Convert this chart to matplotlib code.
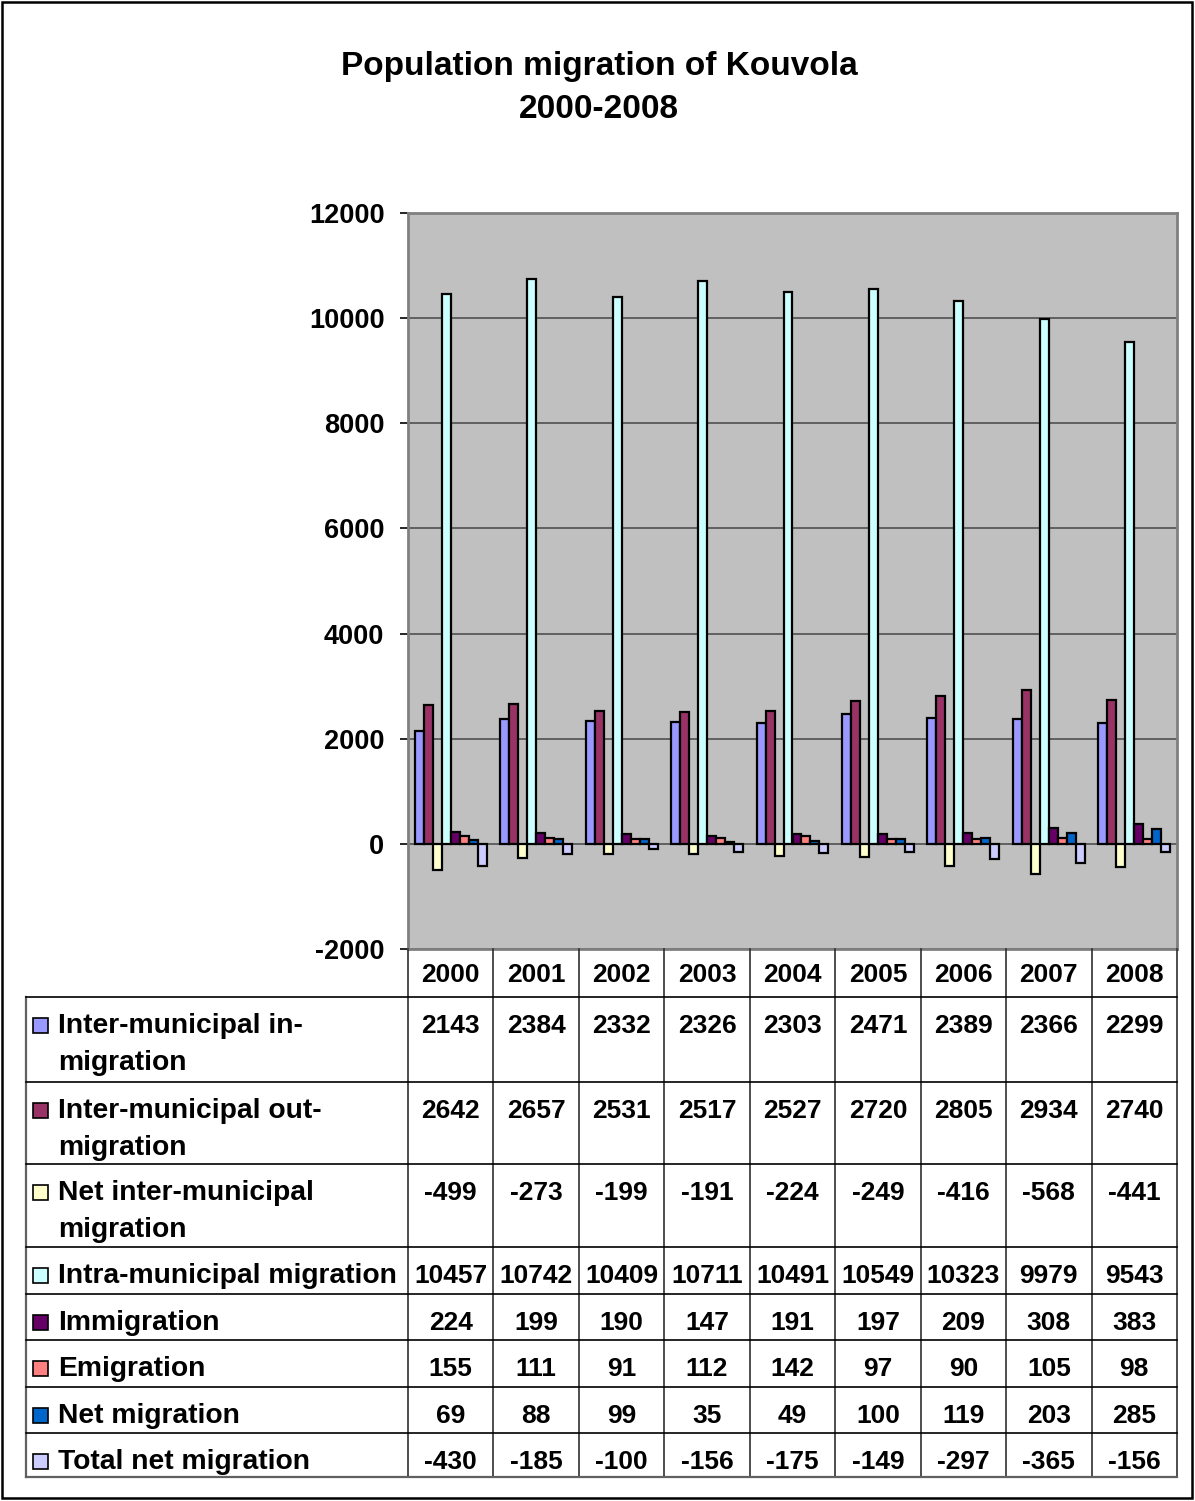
import numpy as np
import matplotlib.pyplot as plt
from matplotlib.patches import Rectangle

plt.rcParams['font.family'] = ['Liberation Sans', 'DejaVu Sans']
plt.rcParams['font.weight'] = 'bold'
plt.rcParams['axes.unicode_minus'] = False

years = ['2000', '2001', '2002', '2003', '2004', '2005', '2006', '2007', '2008']

series_labels = [
    'Inter-municipal in-\nmigration',
    'Inter-municipal out-\nmigration',
    'Net inter-municipal\nmigration',
    'Intra-municipal migration',
    'Immigration',
    'Emigration',
    'Net migration',
    'Total net migration',
]

inter_in = [2143, 2384, 2332, 2326, 2303, 2471, 2389, 2366, 2299]
inter_out = [2642, 2657, 2531, 2517, 2527, 2720, 2805, 2934, 2740]
net_inter = [-499, -273, -199, -191, -224, -249, -416, -568, -441]
intra = [10457, 10742, 10409, 10711, 10491, 10549, 10323, 9979, 9543]
immigration = [224, 199, 190, 147, 191, 197, 209, 308, 383]
emigration = [155, 111, 91, 112, 142, 97, 90, 105, 98]
net_migration = [69, 88, 99, 35, 49, 100, 119, 203, 285]
total_net = [-430, -185, -100, -156, -175, -149, -297, -365, -156]

series = [inter_in, inter_out, net_inter, intra,
          immigration, emigration, net_migration, total_net]
colors = ['#9999FF', '#993366', '#FFFFCC', '#CCFFFF',
          '#660066', '#FF8080', '#0066CC', '#CCCCFF']

W, H = 1195, 1501
fig = plt.figure(figsize=(W / 100, H / 100), dpi=100)

# plot area in pixel terms
px_l, px_r, px_t, px_b = 408, 1177, 213, 949
ax = fig.add_axes([px_l / W, 1 - px_b / H, (px_r - px_l) / W, (px_b - px_t) / H])
ax.set_facecolor('#C0C0C0')

x = np.arange(len(years))
bw = 1 / 9.5
for i, (vals, c) in enumerate(zip(series, colors)):
    ax.bar(x + (i - 3.5) * bw, vals, width=bw, color=c,
           edgecolor='black', linewidth=1.6, zorder=3)

ax.set_xlim(-0.5, len(years) - 0.5)
ax.set_ylim(-2000, 12000)
ax.set_yticks(np.arange(-2000, 12001, 2000))
ax.set_xticks([])
ax.grid(axis='y', color='#505050', linewidth=1.2, zorder=1)
for s in ax.spines.values():
    s.set_color('#808080')
    s.set_linewidth(2)
ax.tick_params(axis='y', direction='out', length=6, width=1.2,
               color='black', labelsize=19.5, pad=11)
for lab in ax.get_yticklabels():
    lab.set_fontweight('bold')

# title
fig.text(599 / W, 1 - 66 / H, 'Population migration of Kouvola',
         ha='center', va='center', fontsize=24, fontweight='bold')
fig.text(599 / W, 1 - 110 / H, '2000-2008',
         ha='center', va='center', fontsize=24, fontweight='bold')

# data table below the plot, drawn in pixel coordinates
tab = fig.add_axes([0, 0, 1, 1])
tab.set_xlim(0, W)
tab.set_ylim(H, 0)
tab.axis('off')
tab.patch.set_visible(False)

line_c = '#303030'
col_w = (px_r - px_l) / len(years)
col_edges = [px_l + k * col_w for k in range(len(years) + 1)]
row_tops = [997, 1082, 1164, 1247, 1294, 1340, 1387, 1433]
tab_bottom = 1477
tab_left = 26

for xe in col_edges:
    tab.plot([xe, xe], [px_b, tab_bottom], color=line_c, lw=1.2)
tab.plot([tab_left, tab_left], [row_tops[0], tab_bottom], color='#606060', lw=1.6)
for yt in row_tops:
    tab.plot([tab_left, px_r], [yt, yt], color='black', lw=1.2)
tab.plot([tab_left, px_r], [tab_bottom, tab_bottom], color='#606060', lw=1.6)

for k, yr in enumerate(years):
    tab.text(col_edges[k] + col_w / 2, 975, yr, ha='center', va='center',
             fontsize=19, fontweight='bold')

for r, (lab, vals, c) in enumerate(zip(series_labels, series, colors)):
    yc = row_tops[r] + 29
    tab.add_patch(Rectangle((33, yc - 8), 15, 15, facecolor=c,
                            edgecolor='black', lw=1.2))
    for j, line in enumerate(lab.split('\n')):
        tab.text(58, yc + j * 37, line, ha='left', va='center',
                 fontsize=20.3, fontweight='bold')
    for k, v in enumerate(vals):
        tab.text(col_edges[k] + col_w / 2, yc, str(v), ha='center',
                 va='center', fontsize=19, fontweight='bold')

# outer chart border
tab.add_patch(Rectangle((2, 2), 1190, 1496, fill=False,
                        edgecolor='black', lw=1.8))

fig.savefig('out.png', dpi=100)
